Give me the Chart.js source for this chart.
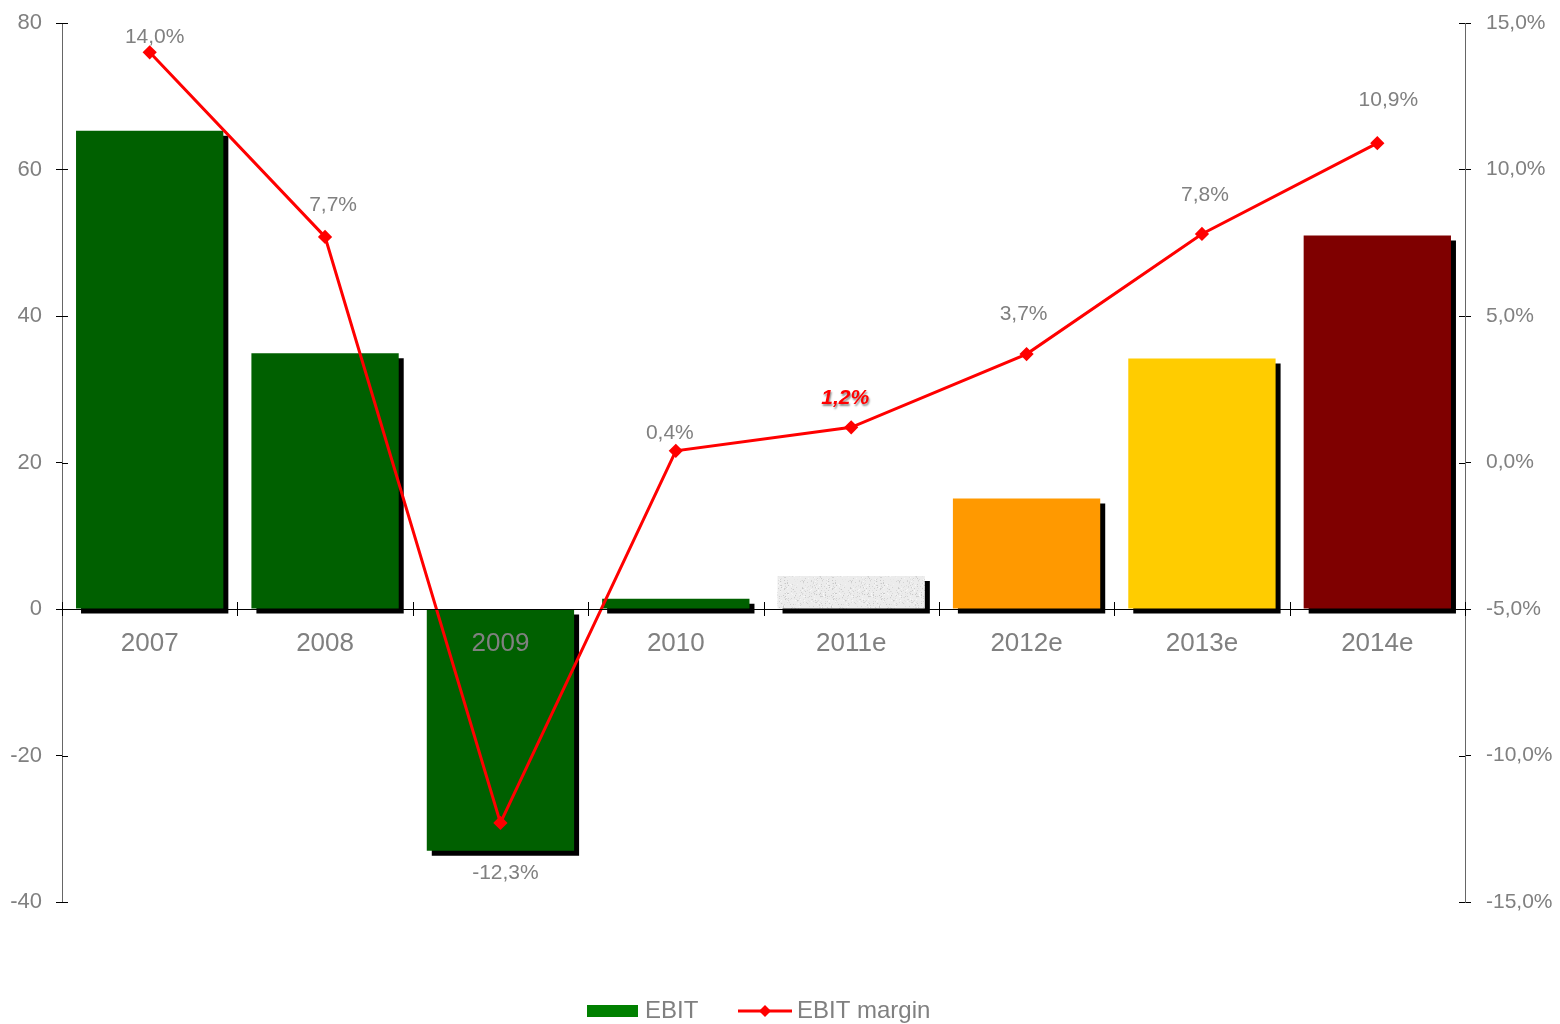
<!DOCTYPE html>
<html>
<head>
<meta charset="utf-8">
<script src="https://cdn.jsdelivr.net/npm/chart.js@4.4.1/dist/chart.umd.min.js"></script>
<style>
  html, body { margin: 0; padding: 0; background: #fff; }
  #wrap { width: 1560px; height: 1024px; }
</style>
</head>
<body>
<div id="wrap"><canvas id="chart" width="1560" height="1024"></canvas></div>
<script>
// Data
const years = ["2007", "2008", "2009", "2010", "2011e", "2012e", "2013e", "2014e"];
const ebit = [65.3, 34.9, -33.0, 1.4, 4.5, 15.1, 34.2, 51.0];
const ebitMargin = [14.0, 7.7, -12.3, 0.4, 1.2, 3.7, 7.8, 10.9];
const leftTicks = { min: -40, max: 80, step: 20 };
const rightTicks = { min: -15, max: 15, step: 5 };

// label nudges for the margin values (px)
const labelDx = [5, 8, 5, -6, -6, -3, 3, 11];
const labelDy = [-15, -32, 50, -18, -29, -40, -39, -43];
const highlightIdx = 4;

const GREY = "#808080";
Chart.defaults.font.family = "'Liberation Sans', Arial, sans-serif";

// speckled grey texture for the 2011e bar
function granite() {
  const c = document.createElement("canvas");
  c.width = c.height = 48;
  const g = c.getContext("2d");
  g.fillStyle = "#ececec";
  g.fillRect(0, 0, 48, 48);
  let s = 12345;
  const next = () => (s = (s * 16807) % 2147483647);
  for (let i = 0; i < 600; i++) {
    const x = next() % 48, y = next() % 48, v = 200 + (next() % 50);
    g.fillStyle = `rgb(${v},${v},${v})`;
    g.fillRect(x, y, 1, 1);
  }
  return g.createPattern(c, "repeat");
}

const barColors = ["#006000", "#006000", "#006000", "#006000", granite(), "#ff9900", "#ffcc00", "#7f0000"];
const fmtPct = v => v.toFixed(1).replace(".", ",") + "%";

// fixed axis sizes so the plot area matches the original
function fixSize(w) {
  return s => {
    if (w !== null) s.width = w; else s.height = 0;
    s.paddingTop = 0; s.paddingBottom = 0;
  };
}

// black drop shadow behind the bars
const barShadow = {
  id: "barShadow",
  beforeDatasetDraw(chart, args) {
    if (args.index !== 0) return;
    const ctx = chart.ctx;
    ctx.save();
    ctx.shadowColor = "#000";
    ctx.shadowOffsetX = 5;
    ctx.shadowOffsetY = 5;
    ctx.shadowBlur = 0;
  },
  afterDatasetDraw(chart, args) {
    if (args.index === 0) chart.ctx.restore();
  }
};

// inner half of the crossing tick marks
const crossTicks = {
  id: "crossTicks",
  afterDatasetsDraw(chart) {
    const ctx = chart.ctx;
    const { x, y, y1 } = chart.scales;
    ctx.save();
    ctx.strokeStyle = "#000";
    ctx.lineWidth = 1;
    ctx.beginPath();
    y.ticks.forEach((t, i) => {
      const p = Math.round(y.getPixelForTick(i)) + 0.5;
      ctx.moveTo(y.right, p); ctx.lineTo(y.right + 6, p);
    });
    y1.ticks.forEach((t, i) => {
      const p = Math.round(y1.getPixelForTick(i)) + 0.5;
      ctx.moveTo(y1.left - 6, p); ctx.lineTo(y1.left, p);
    });
    const zy = y.getPixelForValue(0);
    for (let i = 0; i <= years.length; i++) {
      const p = Math.round(x.getPixelForValue(i - 0.5)) + 0.5;
      ctx.moveTo(p, zy - 7); ctx.lineTo(p, zy + 7);
    }
    ctx.stroke();
    ctx.restore();
  }
};

// value labels on the margin line
const marginLabels = {
  id: "marginLabels",
  afterDatasetsDraw(chart) {
    const ctx = chart.ctx;
    const meta = chart.getDatasetMeta(1);
    ctx.save();
    ctx.textAlign = "center";
    ctx.textBaseline = "middle";
    meta.data.forEach((pt, i) => {
      const txt = fmtPct(ebitMargin[i]);
      ctx.save();
      if (i === highlightIdx) {
        ctx.font = "italic bold 21px 'Liberation Sans', Arial, sans-serif";
        ctx.fillStyle = "#ff0000";
        ctx.shadowColor = "rgba(0,0,0,0.45)";
        ctx.shadowOffsetX = 1;
        ctx.shadowOffsetY = 2;
        ctx.shadowBlur = 2;
      } else {
        ctx.font = "21px 'Liberation Sans', Arial, sans-serif";
        ctx.fillStyle = GREY;
      }
      ctx.fillText(txt, pt.x + labelDx[i], pt.y + labelDy[i]);
      ctx.restore();
    });
    ctx.restore();
  }
};

// legend at the bottom
const bottomLegend = {
  id: "bottomLegend",
  afterDraw(chart) {
    const ctx = chart.ctx;
    const cy = 1011;
    ctx.save();
    ctx.font = "24px 'Liberation Sans', Arial, sans-serif";
    ctx.textBaseline = "middle";
    ctx.fillStyle = "#008000";
    ctx.fillRect(587, cy - 6, 51, 12);
    ctx.fillStyle = GREY;
    ctx.fillText(chart.data.datasets[0].label, 645, cy);
    ctx.strokeStyle = "#ff0000";
    ctx.lineWidth = 3;
    ctx.beginPath();
    ctx.moveTo(738, cy); ctx.lineTo(792, cy);
    ctx.stroke();
    ctx.fillStyle = "#ff0000";
    ctx.beginPath();
    ctx.moveTo(765, cy - 6); ctx.lineTo(771, cy); ctx.lineTo(765, cy + 6); ctx.lineTo(759, cy);
    ctx.closePath();
    ctx.fill();
    ctx.fillStyle = GREY;
    ctx.fillText(chart.data.datasets[1].label, 797, cy);
    ctx.restore();
  }
};

const ctx = document.getElementById("chart");
new Chart(ctx, {
  data: {
    labels: years,
    datasets: [
      {
        type: "bar",
        label: "EBIT",
        data: ebit,
        backgroundColor: barColors,
        yAxisID: "y",
        order: 1,
        barPercentage: 0.84,
        categoryPercentage: 1
      },
      {
        type: "line",
        label: "EBIT margin",
        data: ebitMargin,
        yAxisID: "y1",
        order: 0,
        borderColor: "#ff0000",
        borderWidth: 3,
        pointStyle: "rectRot",
        pointRadius: 5,
        pointBackgroundColor: "#ff0000",
        pointBorderColor: "#ff0000",
        tension: 0
      }
    ]
  },
  options: {
    responsive: false,
    animation: false,
    devicePixelRatio: 1,
    layout: { padding: { top: 23, bottom: 122, left: 0, right: 0 } },
    plugins: { legend: { display: false }, tooltip: { enabled: false } },
    scales: {
      x: {
        position: { y: 0 },
        afterFit: fixSize(null),
        grid: { drawOnChartArea: false, drawTicks: false, offset: true },
        border: { color: "#000", width: 1, z: 1 },
        ticks: { color: GREY, font: { size: 26 }, padding: 19, maxRotation: 0, autoSkip: false, z: 1 }
      },
      y: {
        position: "left",
        min: leftTicks.min,
        max: leftTicks.max,
        afterFit: fixSize(62),
        grid: { drawOnChartArea: false, tickLength: 6, color: "#000" },
        border: { color: "#666", width: 1 },
        ticks: { stepSize: leftTicks.step, color: GREY, font: { size: 22 }, padding: 14 }
      },
      y1: {
        position: "right",
        min: rightTicks.min,
        max: rightTicks.max,
        afterFit: fixSize(95),
        grid: { drawOnChartArea: false, tickLength: 6, color: "#000" },
        border: { color: "#666", width: 1 },
        ticks: { stepSize: rightTicks.step, color: GREY, font: { size: 21 }, padding: 15, callback: v => fmtPct(v) }
      }
    }
  },
  plugins: [barShadow, crossTicks, marginLabels, bottomLegend]
});
</script>
</body>
</html>
